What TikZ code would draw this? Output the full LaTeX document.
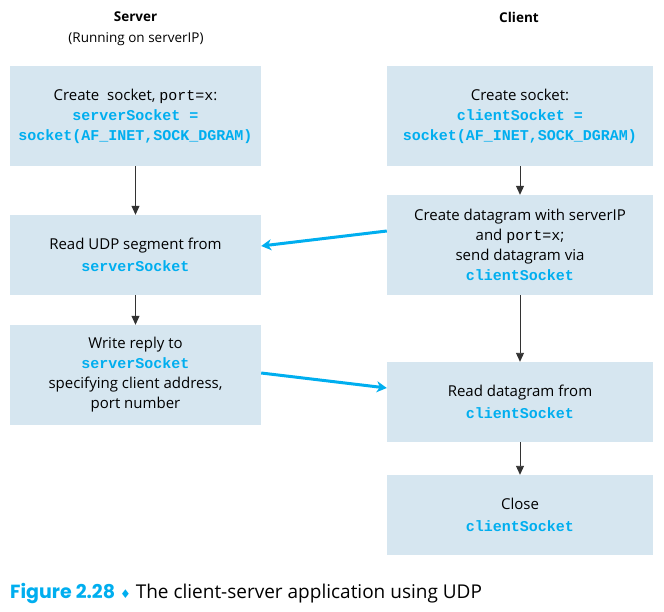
\documentclass[tikz,border=0pt]{standalone}
\usepackage{fontspec}
\setmainfont{Open Sans}
\setmonofont{Liberation Mono}
\newfontfamily\capfont{Poppins}
\newfontfamily\symfont{DejaVu Sans}
\usetikzlibrary{arrows.meta}
\definecolor{boxfill}{HTML}{D6E6F0}
\definecolor{codeblue}{HTML}{00AEEF}
\definecolor{arrgray}{HTML}{333333}
\newcommand{\cb}[1]{{\ttfamily\bfseries\color{codeblue}#1}}
\newcommand{\ct}[1]{{\ttfamily #1}}
\tikzset{
  stepbox/.style={rectangle, fill=boxfill, inner sep=0pt, align=center, font=\fontsize{15}{20}\selectfont, text=black},
  lbox/.style={stepbox, minimum width=251pt},
  rbox/.style={stepbox, minimum width=266pt},
  flow/.style={draw=arrgray, line width=0.9pt, -{Triangle[width=8pt,length=9pt]}},
  msg/.style={draw=codeblue, line width=3pt, -{Stealth[width=11pt,length=10pt,inset=3pt]}},
  head/.style={font=\fontsize{13.5}{16}\selectfont, align=center}
}
\begin{document}
\begin{tikzpicture}[x=1pt,y=-1pt]
\useasboundingbox (0,0) rectangle (664,612);
\node[head] (srv) at (135.5,17) {\bfseries Server};
\node[head] (srvip) at (136,39) {(Running on serverIP)};
\node[head] (cli) at (519,17) {\bfseries Client};

\node[lbox, minimum height=100pt] (L1) at (135.5,116) {Create\ \ socket, \ct{port=x}:\\ \cb{serverSocket =}\\ \cb{socket(AF\_INET,SOCK\_DGRAM)}};
\node[lbox, minimum height=80pt] (L2) at (135.5,255) {Read UDP segment from\\[2pt] \cb{serverSocket}};
\node[lbox, minimum height=100pt] (L3) at (135.5,375) {Write reply to\\ \cb{serverSocket}\\ specifying client address,\\ port number};

\node[rbox, minimum height=100pt] (R1) at (520,116) {Create socket:\\ \cb{clientSocket =}\\ \cb{socket(AF\_INET,SOCK\_DGRAM)}};
\node[rbox, minimum height=100pt] (R2) at (520,245) {Create datagram with serverIP\\ and \ct{port=x};\\ send datagram via\\ \cb{clientSocket}};
\node[rbox, minimum height=80pt] (R3) at (520,402) {Read datagram from\\[2pt] \cb{clientSocket}};
\node[rbox, minimum height=80pt] (R4) at (520,515) {Close\\[2pt] \cb{clientSocket}};

\draw[flow] (L1) -- (L2);
\draw[flow] (L2) -- (L3);
\draw[flow] (R1) -- (R2);
\draw[flow] (R2) -- (R3);
\draw[flow] (R3) -- (R4);

\draw[msg] ([yshift=14pt]R2.west) -- ([yshift=9pt]L2.east);
\draw[msg] ([yshift=2pt]L3.east) -- ([yshift=14pt]R3.west);

\node[anchor=base west, inner sep=0pt, font=\fontsize{19}{21}\selectfont] (cap) at (10,598) {{\capfont\bfseries\color{codeblue}Figure 2.28} {\symfont\color{codeblue}\fontsize{12}{12}\selectfont ♦} The client-server application using UDP};
\end{tikzpicture}
\end{document}
